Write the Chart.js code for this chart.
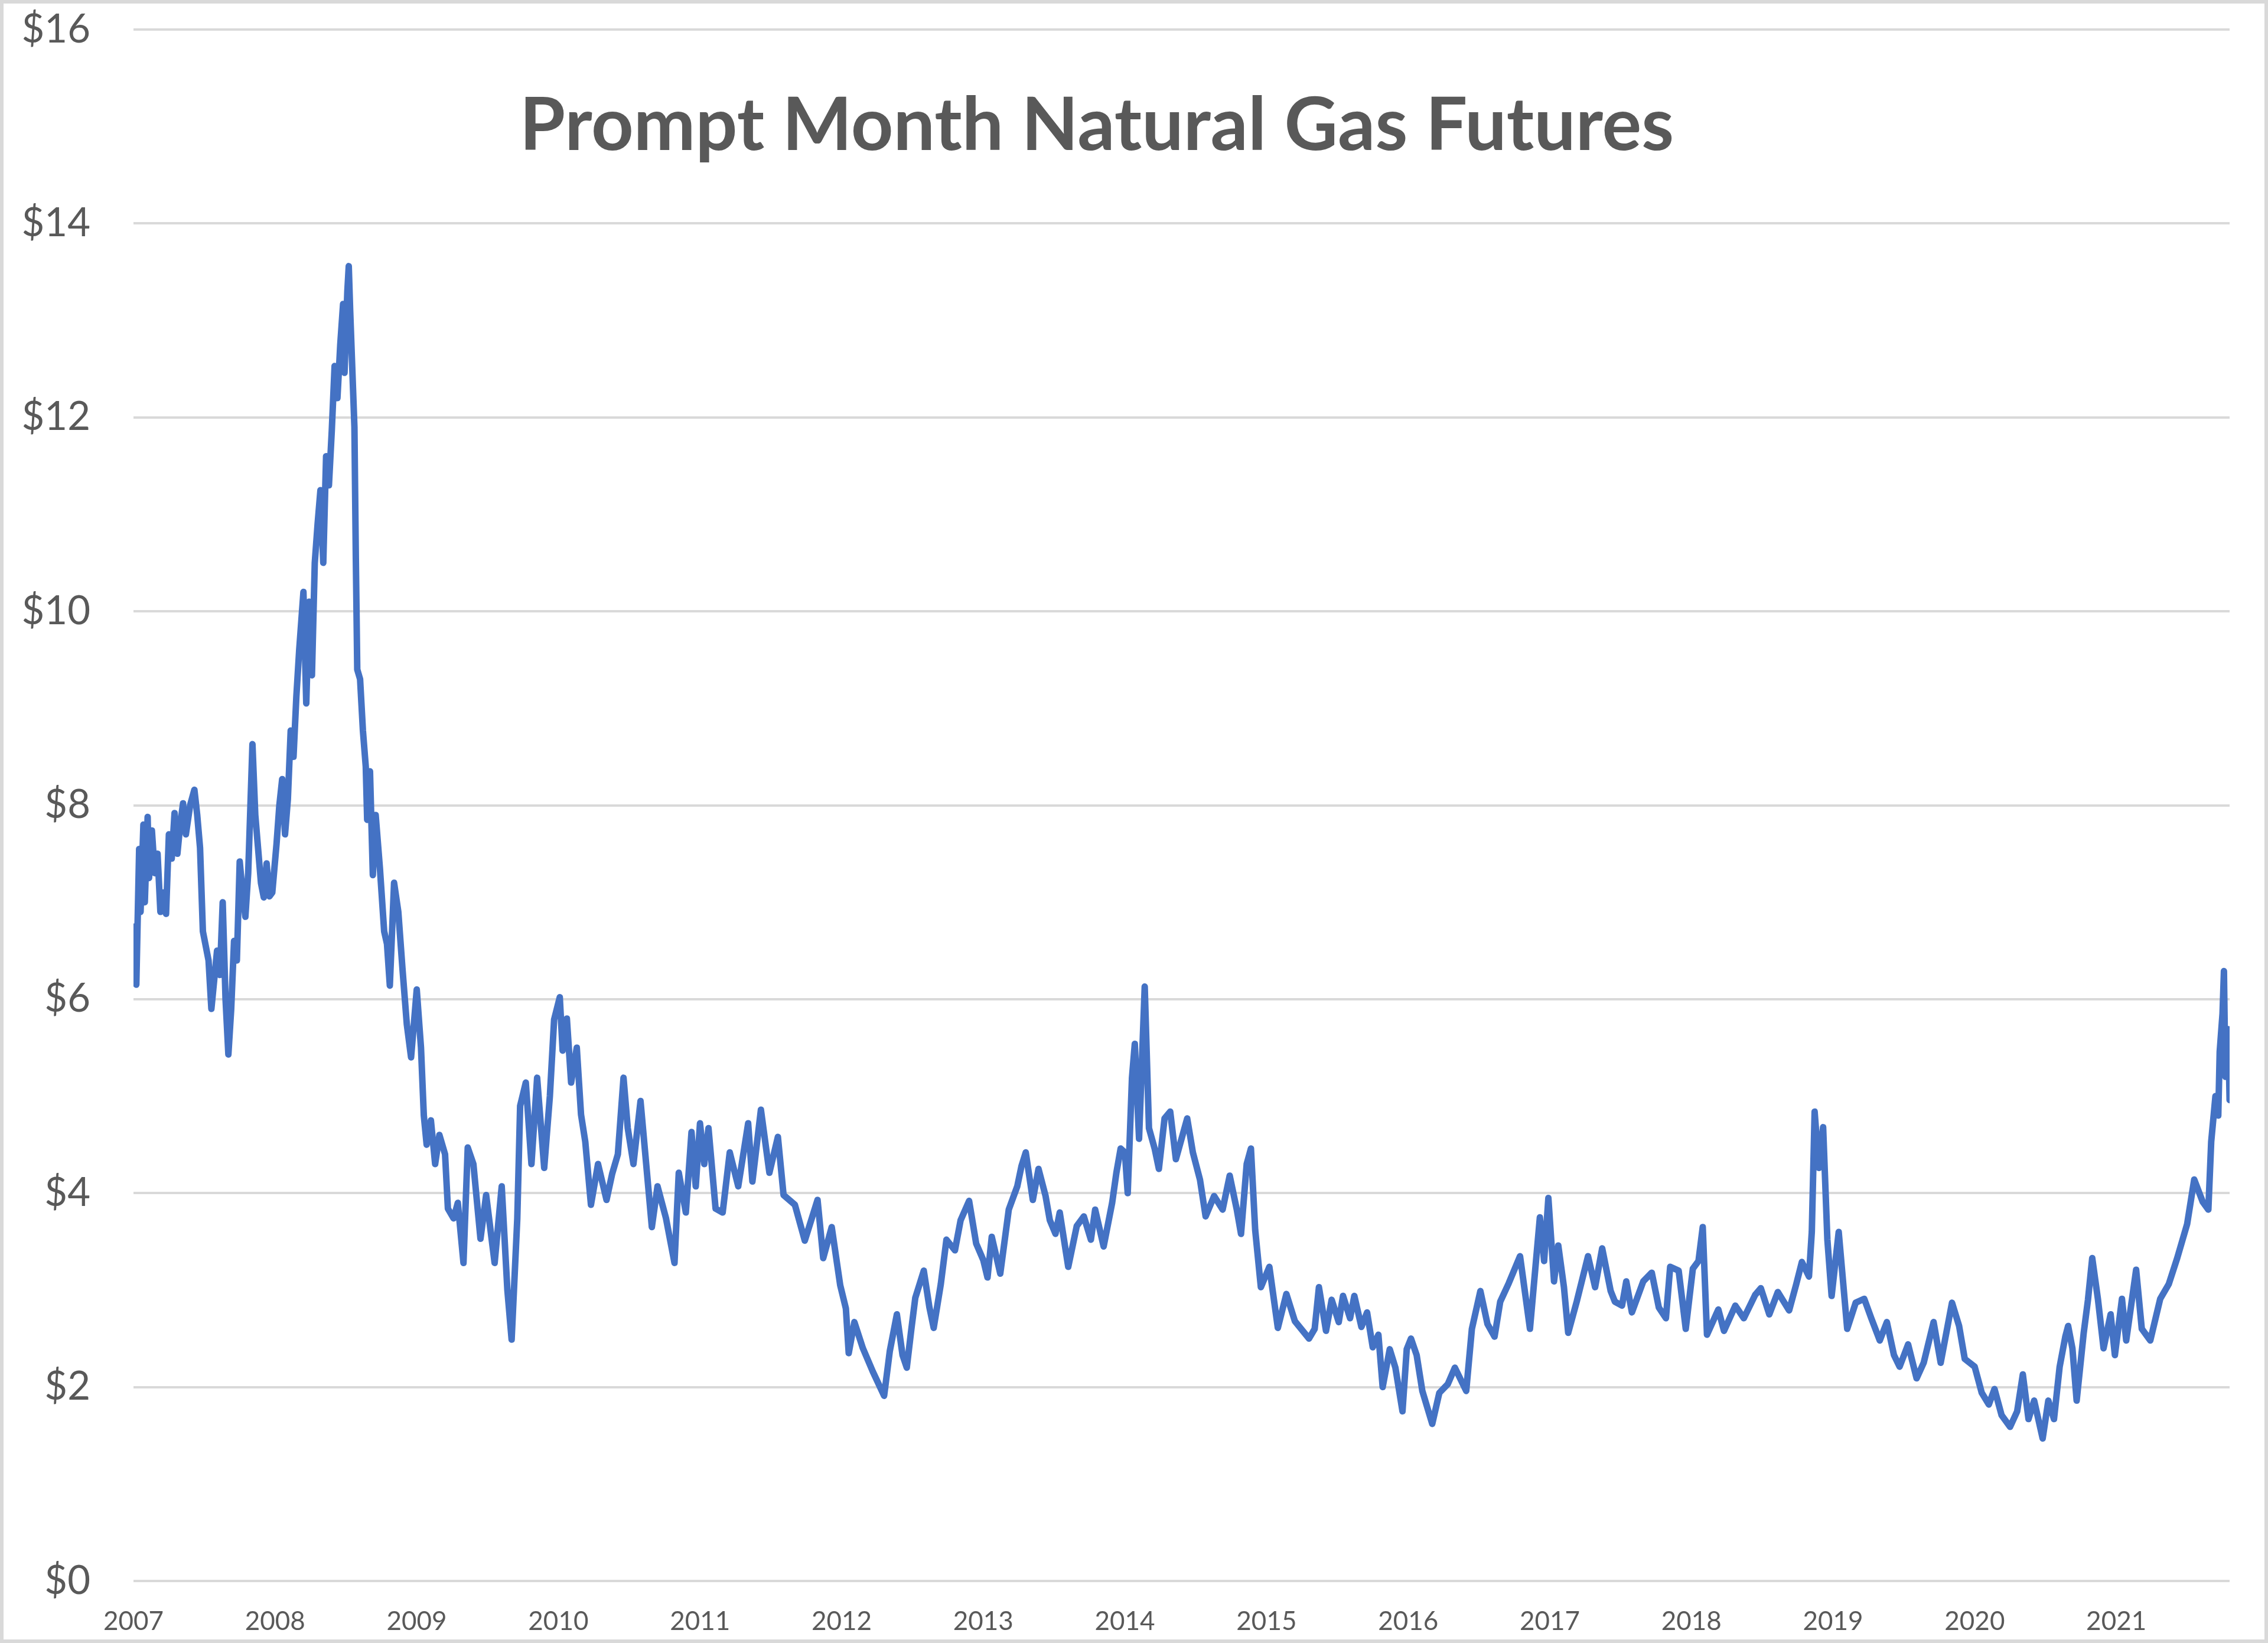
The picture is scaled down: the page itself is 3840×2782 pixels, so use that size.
<!DOCTYPE html>
<html>
<head>
<meta charset="utf-8">
<script src="https://cdn.jsdelivr.net/npm/chart.js@4.4.1/dist/chart.umd.min.js"></script>
<style>
  html, body { margin:0; padding:0; background:#fff; }
  canvas { display:block; }
</style>
</head>
<body>
<canvas id="gas" width="3840" height="2782"></canvas>
<script>
// decimal year of each reading
var dates = [
  2007.00,2007.01,2007.02,2007.04,2007.05,2007.07,2007.08,2007.10,2007.11,2007.13,2007.15,2007.17,2007.19,2007.21,2007.23,2007.25,
  2007.27,2007.29,2007.31,2007.33,2007.35,2007.37,2007.40,2007.43,2007.45,2007.47,2007.49,2007.51,2007.53,2007.55,2007.57,2007.59,
  2007.61,2007.63,2007.65,2007.67,2007.69,2007.71,2007.73,2007.75,2007.77,2007.79,2007.81,2007.84,2007.86,2007.88,2007.90,2007.92,
  2007.94,2007.96,2007.98,2008.01,2008.03,2008.05,2008.07,2008.09,2008.11,2008.13,2008.15,2008.17,2008.20,2008.22,2008.24,2008.26,
  2008.28,2008.30,2008.32,2008.34,2008.36,2008.38,2008.40,2008.42,2008.44,2008.46,2008.48,2008.49,2008.51,2008.52,2008.53,2008.55,
  2008.56,2008.57,2008.58,2008.60,2008.62,2008.64,2008.65,2008.67,2008.69,2008.71,2008.74,2008.77,2008.79,2008.81,2008.84,2008.87,
  2008.90,2008.93,2008.96,2009.00,2009.03,2009.05,2009.07,2009.10,2009.13,2009.16,2009.20,2009.22,2009.26,2009.29,2009.33,2009.36,
  2009.40,2009.45,2009.49,2009.55,2009.60,2009.64,2009.67,2009.71,2009.73,2009.77,2009.81,2009.85,2009.90,2009.94,2009.97,2010.01,
  2010.03,2010.06,2010.09,2010.13,2010.16,2010.19,2010.23,2010.28,2010.34,2010.38,2010.42,2010.46,2010.49,2010.53,2010.58,2010.62,
  2010.66,2010.70,2010.76,2010.82,2010.85,2010.90,2010.94,2010.97,2011.00,2011.03,2011.06,2011.11,2011.16,2011.21,2011.27,2011.34,
  2011.37,2011.43,2011.49,2011.55,2011.59,2011.67,2011.74,2011.83,2011.87,2011.93,2011.99,2012.03,2012.05,2012.09,2012.15,2012.22,
  2012.30,2012.34,2012.39,2012.43,2012.46,2012.49,2012.52,2012.58,2012.62,2012.65,2012.70,2012.74,2012.80,2012.84,2012.90,2012.95,
  2013.00,2013.03,2013.06,2013.12,2013.18,2013.24,2013.27,2013.30,2013.35,2013.39,2013.44,2013.47,2013.51,2013.54,2013.60,2013.66,
  2013.71,2013.76,2013.79,2013.85,2013.91,2013.94,2013.97,2014.00,2014.02,2014.05,2014.07,2014.10,2014.14,2014.17,2014.21,2014.24,
  2014.28,2014.32,2014.36,2014.44,2014.48,2014.53,2014.57,2014.63,2014.69,2014.74,2014.79,2014.82,2014.86,2014.89,2014.92,2014.96,
  2015.02,2015.08,2015.14,2015.20,2015.30,2015.34,2015.37,2015.42,2015.46,2015.51,2015.54,2015.59,2015.62,2015.67,2015.71,2015.75,
  2015.79,2015.82,2015.87,2015.91,2015.96,2015.99,2016.02,2016.06,2016.10,2016.17,2016.22,2016.28,2016.33,2016.41,2016.45,2016.51,
  2016.56,2016.61,2016.65,2016.71,2016.79,2016.86,2016.93,2016.96,2016.99,2017.03,2017.06,2017.10,2017.13,2017.19,2017.27,2017.32,
  2017.37,2017.43,2017.46,2017.51,2017.54,2017.58,2017.66,2017.72,2017.77,2017.82,2017.85,2017.91,2017.96,2018.01,2018.05,2018.08,
  2018.11,2018.19,2018.23,2018.31,2018.37,2018.45,2018.49,2018.55,2018.61,2018.69,2018.74,2018.78,2018.83,2018.85,2018.87,2018.90,
  2018.93,2018.96,2018.99,2019.04,2019.10,2019.16,2019.22,2019.27,2019.33,2019.38,2019.43,2019.47,2019.53,2019.59,2019.64,2019.71,
  2019.76,2019.84,2019.89,2019.93,2020.00,2020.05,2020.10,2020.14,2020.19,2020.25,2020.30,2020.34,2020.38,2020.42,2020.48,2020.52,
  2020.56,2020.60,2020.64,2020.66,2020.69,2020.72,2020.77,2020.80,2020.83,2020.87,2020.91,2020.96,2020.99,2021.04,2021.07,2021.14,
  2021.18,2021.24,2021.31,2021.37,2021.43,2021.50,2021.55,2021.61,2021.65,2021.67,2021.70,2021.72,2021.73,2021.75,2021.76,2021.77,
  2021.79,2021.80
];

// prompt month price, $/MMBtu
var prices = [
  6.20,6.75,6.15,7.55,6.90,7.80,7.00,7.88,7.25,7.74,7.30,7.50,6.90,7.10,6.88,7.70,
  7.45,7.92,7.50,7.80,8.02,7.70,8.00,8.16,7.90,7.56,6.70,6.55,6.40,5.90,6.20,6.50,
  6.25,7.00,6.00,5.43,5.90,6.60,6.40,7.42,7.10,6.85,7.30,8.63,7.90,7.55,7.20,7.05,
  7.40,7.06,7.10,7.60,8.00,8.27,7.70,8.06,8.77,8.50,9.12,9.60,10.20,9.05,10.10,9.34,
  10.50,10.90,11.25,10.50,11.60,11.30,11.86,12.53,12.20,12.75,13.17,12.46,13.30,13.56,13.10,12.30,
  11.90,10.54,9.40,9.30,8.77,8.40,7.85,8.35,7.28,7.90,7.35,6.70,6.57,6.14,7.20,6.90,
  6.30,5.74,5.40,6.10,5.50,4.80,4.50,4.75,4.30,4.60,4.40,3.84,3.74,3.90,3.28,4.47,
  4.30,3.53,3.98,3.28,4.07,3.00,2.49,3.74,4.90,5.14,4.30,5.19,4.26,5.00,5.79,6.02,
  5.47,5.80,5.14,5.50,4.81,4.53,3.88,4.30,3.93,4.20,4.40,5.19,4.67,4.30,4.95,4.30,
  3.65,4.07,3.74,3.28,4.21,3.80,4.63,4.07,4.72,4.30,4.67,3.84,3.80,4.42,4.07,4.72,
  4.12,4.86,4.21,4.58,3.98,3.88,3.51,3.93,3.33,3.65,3.05,2.81,2.35,2.67,2.40,2.16,
  1.91,2.37,2.75,2.33,2.20,2.57,2.92,3.20,2.82,2.61,3.06,3.52,3.41,3.72,3.92,3.48,
  3.31,3.13,3.55,3.17,3.83,4.07,4.28,4.42,3.93,4.25,3.97,3.72,3.58,3.80,3.24,3.66,
  3.76,3.52,3.83,3.45,3.90,4.21,4.46,4.42,4.00,5.19,5.54,4.56,6.13,4.67,4.46,4.25,
  4.77,4.84,4.35,4.77,4.42,4.14,3.76,3.97,3.83,4.18,3.83,3.58,4.30,4.46,3.62,3.03,
  3.24,2.61,2.96,2.68,2.50,2.60,3.03,2.58,2.90,2.67,2.94,2.71,2.94,2.62,2.77,2.41,
  2.54,2.00,2.39,2.20,1.75,2.39,2.50,2.33,1.96,1.62,1.94,2.03,2.20,1.96,2.60,2.99,
  2.65,2.52,2.88,3.07,3.35,2.60,3.75,3.30,3.95,3.09,3.46,3.03,2.56,2.88,3.35,3.03,
  3.43,2.99,2.88,2.84,3.09,2.77,3.09,3.18,2.82,2.71,3.24,3.20,2.60,3.22,3.30,3.65,
  2.54,2.80,2.58,2.84,2.71,2.95,3.02,2.75,2.98,2.79,3.06,3.29,3.14,3.60,4.84,4.26,
  4.68,3.52,2.94,3.60,2.60,2.87,2.91,2.71,2.48,2.67,2.33,2.21,2.44,2.09,2.25,2.67,
  2.25,2.87,2.63,2.29,2.21,1.94,1.82,1.98,1.71,1.59,1.75,2.13,1.67,1.86,1.47,1.86,
  1.67,2.21,2.52,2.63,2.40,1.86,2.56,2.90,3.33,2.91,2.40,2.75,2.33,2.91,2.48,3.21,
  2.60,2.48,2.91,3.06,3.33,3.68,4.14,3.91,3.83,4.53,5.00,4.80,5.46,5.85,6.29,5.20,
  5.69,4.96
];

var yearTicks = [2007,2008,2009,2010,2011,2012,2013,2014,2015,2016,2017,2018,2019,2020,2021];
var dollarTicks = [0,2,4,6,8,10,12,14,16];
var chartTitle = 'Prompt Month Natural Gas Futures';

var ink = '#595959';
var grid = '#D9D9D9';

var frame = {
  id: 'frame',
  afterDraw: function(chart){
    var c = chart.ctx;
    c.save();
    c.fillStyle = ink;
    c.font = 'bold 125px Lato';
    c.textAlign = 'center';
    c.textBaseline = 'alphabetic';
    c.fillText(chartTitle, 1857, 254);
    c.strokeStyle = grid;
    c.lineWidth = 6;
    c.strokeRect(3, 3, chart.width - 6, chart.height - 6);
    c.restore();
  }
};

var points = dates.map(function(d, i){ return { x: d, y: prices[i] }; });

new Chart(document.getElementById('gas'), {
  type: 'line',
  data: { datasets: [{
    data: points,
    borderColor: '#4472C4',
    borderWidth: 11,
    borderJoinStyle: 'round',
    borderCapStyle: 'round',
    pointRadius: 0,
    tension: 0,
    fill: false
  }]},
  options: {
    responsive: false,
    animation: false,
    devicePixelRatio: 1,
    layout: { padding: { left: 0, top: 50, right: 65, bottom: 0 } },
    plugins: { legend: { display: false }, tooltip: { enabled: false }, title: { display: false } },
    scales: {
      x: {
        type: 'linear',
        min: 2007,
        max: 2021.8,
        afterBuildTicks: function(s){ s.ticks = yearTicks.map(function(v){ return { value: v }; }); },
        afterFit: function(s){ s.height = 105; s.paddingLeft = 0; s.paddingRight = 0; },
        grid: { display: false },
        border: { display: false },
        ticks: { color: ink, font: { family: 'Lato', size: 44 }, padding: 34, maxRotation: 0, autoSkip: false,
                 callback: function(v){ return String(v); } }
      },
      y: {
        min: 0,
        max: 16,
        afterBuildTicks: function(s){ s.ticks = dollarTicks.map(function(v){ return { value: v }; }); },
        afterFit: function(s){ s.width = 226; s.paddingTop = 0; s.paddingBottom = 0; },
        grid: { color: grid, lineWidth: 4, drawTicks: false },
        border: { display: false },
        ticks: { color: ink, font: { family: 'Lato', size: 67 }, padding: 73,
                 callback: function(v){ return '$' + v; } }
      }
    }
  },
  plugins: [frame]
});
</script>
</body>
</html>
